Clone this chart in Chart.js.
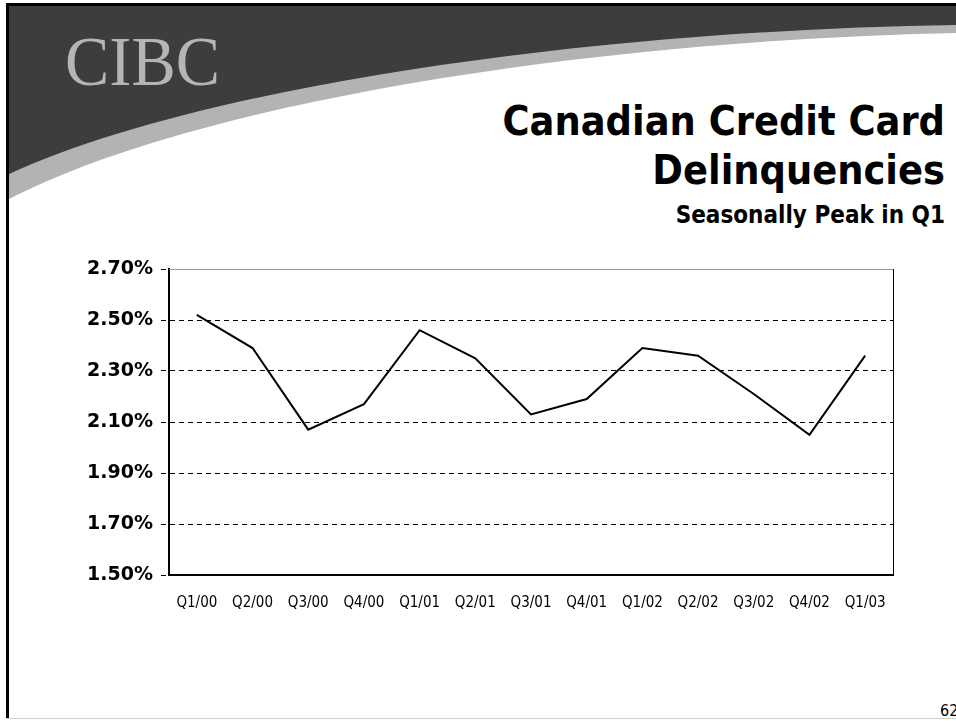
<!DOCTYPE html>
<html>
<head>
<meta charset="utf-8">
<script src="https://cdn.jsdelivr.net/npm/chart.js@4.4.1/dist/chart.umd.min.js"></script>
<style>
  html, body { margin: 0; padding: 0; background: #fff; }
  body { width: 956px; height: 721px; position: relative; overflow: hidden; }
  #slide { position: absolute; left: 0; top: 0; }
  #chartBox { position: absolute; left: 0; top: 240px; width: 956px; height: 400px; }
</style>
</head>
<body>
<svg id="slide" width="956" height="721" xmlns="http://www.w3.org/2000/svg">
  <!-- header swoosh -->
  <path d="M7,5 H956 V33 C600,40 200,100 7,200 Z" fill="#b3b3b3"/>
  <path d="M7,5 H956 V25 C600,30 200,85 7,175 Z" fill="#3d3d3d"/>
  <text x="65" y="85" font-family="Liberation Serif" font-size="70" fill="#b5b5b5" textLength="155" lengthAdjust="spacingAndGlyphs">CIBC</text>
  <!-- titles -->
  <g font-family="DejaVu Sans Condensed, DejaVu Sans" font-weight="bold" text-anchor="end" fill="#000">
    <text x="945" y="135" font-size="41">Canadian Credit Card</text>
    <text x="945" y="184" font-size="41">Delinquencies</text>
    <text x="945" y="223" font-size="24">Seasonally Peak in Q1</text>
  </g>
  <text x="940" y="716" font-family="DejaVu Sans Condensed, DejaVu Sans" font-size="16" fill="#000">62</text>
  <!-- slide frame -->
  <rect x="6" y="3" width="950" height="3" fill="#000"/>
  <rect x="6" y="3" width="3" height="715" fill="#000"/>
  <rect x="6" y="718" width="950" height="1" fill="#d0d0d0"/>
</svg>
<div id="chartBox"><canvas id="lineChart"></canvas></div>
<script>
const quarters = ['Q1/00', 'Q2/00', 'Q3/00', 'Q4/00', 'Q1/01', 'Q2/01', 'Q3/01', 'Q4/01', 'Q1/02', 'Q2/02', 'Q3/02', 'Q4/02', 'Q1/03'];
const delinquencyRates = [2.52, 2.39, 2.07, 2.17, 2.46, 2.35, 2.13, 2.19, 2.39, 2.36, 2.21, 2.05, 2.36];
const yMin = 1.5;
const yMax = 2.7;
const yStep = 0.2;

// thin frame on the top and right of the plot area
const plotFrame = {
    id: 'plotFrame',
    beforeDatasetsDraw(chart) {
        const { ctx, chartArea } = chart;
        ctx.save();
        ctx.lineWidth = 1;
        ctx.strokeStyle = '#999';
        ctx.beginPath();
        ctx.moveTo(chartArea.left, chartArea.top + 0.5);
        ctx.lineTo(chartArea.right, chartArea.top + 0.5);
        ctx.stroke();
        ctx.strokeStyle = '#000';
        ctx.beginPath();
        ctx.moveTo(chartArea.right + 0.5, chartArea.top);
        ctx.lineTo(chartArea.right + 0.5, chartArea.bottom);
        ctx.stroke();
        ctx.restore();
    }
};

new Chart(document.getElementById('lineChart').getContext('2d'), {
    type: 'line',
    data: {
        labels: quarters,
        datasets: [{
            data: delinquencyRates,
            borderColor: '#000',
            borderWidth: 2,
            pointRadius: 0,
            tension: 0,
            fill: false
        }]
    },
    options: {
        responsive: true,
        maintainAspectRatio: false,
        animation: false,
        layout: { padding: { top: 29, right: 63, left: 0, bottom: 0 } },
        plugins: {
            legend: { display: false },
            tooltip: { enabled: false }
        },
        scales: {
            x: {
                offset: true,
                grid: { display: false, drawTicks: false },
                border: { color: '#000', width: 2 },
                ticks: {
                    color: '#000',
                    padding: 19,
                    maxRotation: 0,
                    autoSkip: false,
                    font: { family: 'DejaVu Sans Condensed, DejaVu Sans', size: 15 }
                },
                afterFit(scale) { scale.height = 65; }
            },
            y: {
                min: yMin,
                max: yMax,
                grid: {
                    color: '#000',
                    lineWidth: 1,
                    tickBorderDash: [5, 4],
                    tickLength: 8
                },
                border: { color: '#000', width: 2, dash: [5, 4] },
                ticks: {
                    stepSize: yStep,
                    color: '#000',
                    padding: 8,
                    font: { family: 'DejaVu Sans', size: 19, weight: 'bold' },
                    callback: v => v.toFixed(2) + '%'
                },
                afterFit(scale) { scale.width = 169; }
            }
        }
    },
    plugins: [plotFrame]
});
</script>
</body>
</html>
